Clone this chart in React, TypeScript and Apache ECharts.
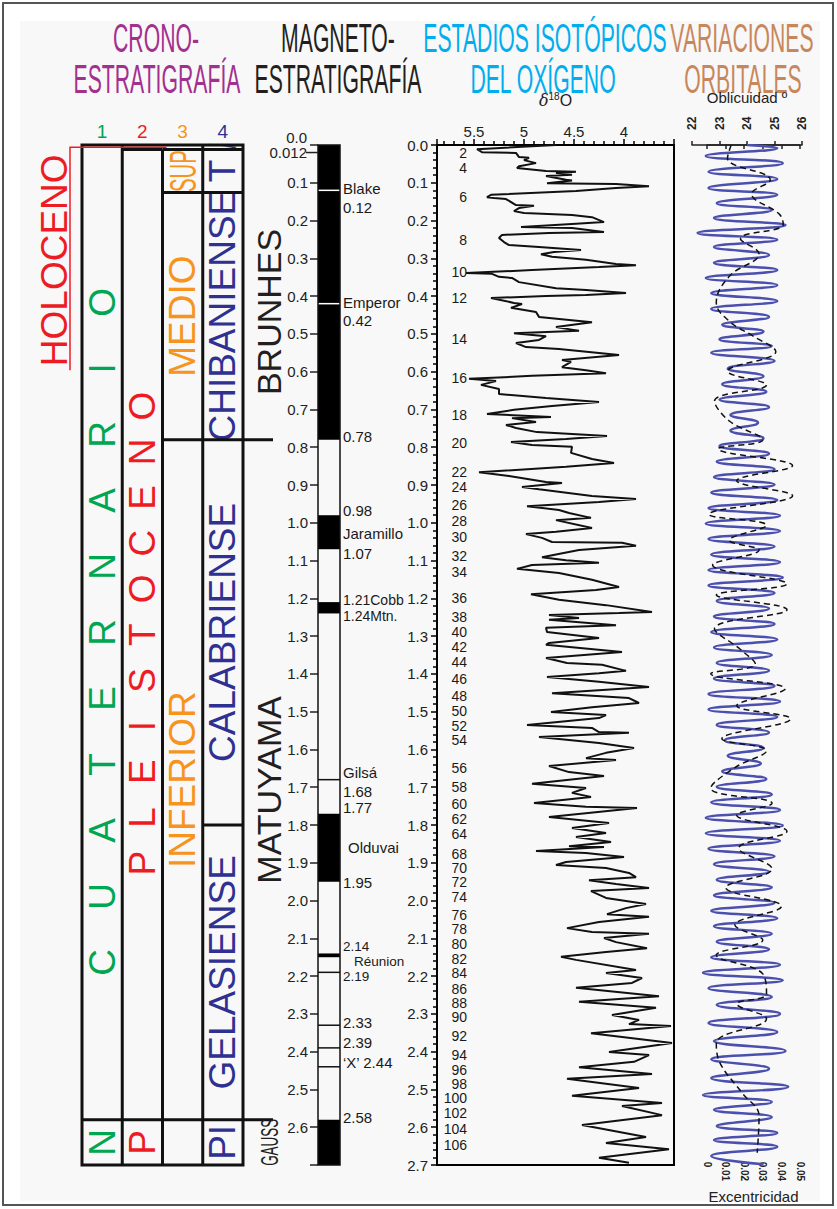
import { useEffect, useRef } from 'react';
import * as echarts from 'echarts';

const FONT = '"Liberation Sans", Arial, Helvetica, sans-serif';
const AGE_MIN = 0;
const AGE_MAX = 2.7;

// ---------- Cronoestratigrafía: [desde Ma, hasta Ma, nombre] ----------
const sistema: [number, number, string][] = [[0, 2.58, 'CUATERNARIO'], [2.58, 2.7, 'N']];
const serie: [number, number, string][] = [[0, 0.012, ''], [0.012, 2.58, 'PLEISTOCENO'], [2.58, 2.7, 'P']];
const subserie: [number, number, string][] = [[0, 0.012, ''], [0.012, 0.126, 'SUP'], [0.126, 0.78, 'MEDIO'], [0.78, 2.58, 'INFERIOR'], [2.58, 2.7, '']];
const piso: [number, number, string][] = [[0, 0.012, 'V'], [0.012, 0.126, 'T'], [0.126, 0.78, 'CHIBANIENSE'], [0.78, 1.8, 'CALABRIENSE'], [1.8, 2.58, 'GELASIENSE'], [2.58, 2.7, 'PI']];
const columnNumbers = ['1', '2', '3', '4'];
const extendedBoundaries = [0.78, 2.58];

// ---------- Magnetoestratigrafía ----------
const normalChrons: [number, number][] = [[0, 0.78], [0.98, 1.07], [1.21, 1.24], [1.77, 1.95], [2.14, 2.15], [2.58, 2.7]];
const shortEvents = [0.12, 0.42, 1.68, 2.19, 2.33, 2.39, 2.44];
const chronNames: [number, string][] = [[0.442, 'BRUNHES'], [1.707, 'MATUYAMA'], [2.64, 'GAUSS']];
const topAgeLabels: [number, string][] = [[0, '0.0'], [0.012, '0.012']];
const magnetoLabels: [number, string][] = [
  [0.12, 'Blake'], [0.12, '0.12'], [0.42, 'Emperor'], [0.42, '0.42'], [0.78, '0.78'], [0.98, '0.98'],
  [1.07, 'Jaramillo'], [1.07, '1.07'], [1.21, '1.21Cobb'], [1.24, '1.24Mtn.'], [1.68, 'Gilsá'], [1.68, '1.68'],
  [1.77, '1.77'], [1.86, 'Olduvai'], [1.95, '1.95'], [2.14, '2.14'], [2.15, 'Réunion'], [2.19, '2.19'],
  [2.33, '2.33'], [2.39, '2.39'], [2.44, '‘X’ 2.44'], [2.58, '2.58'],
];

// ---------- Estadios isotópicos: [δ18O ‰, edad Ma] ----------
const d18O: [number, number][] = [
  [4.68, 0.000], [5.47, 0.011], [5.42, 0.019], [5.08, 0.021], [5.05, 0.032], [4.95, 0.034], [5.00, 0.040], [4.88, 0.048],
  [5.05, 0.056], [5.07, 0.061], [4.78, 0.069], [4.48, 0.071], [4.68, 0.074], [4.52, 0.079], [4.78, 0.082], [4.58, 0.092],
  [4.52, 0.094], [4.77, 0.101], [4.08, 0.103], [3.75, 0.109], [4.08, 0.114], [4.48, 0.122], [5.33, 0.132], [5.37, 0.138],
  [5.30, 0.140], [5.18, 0.143], [5.08, 0.159], [4.90, 0.161], [5.05, 0.167], [5.10, 0.175], [5.00, 0.180], [4.52, 0.185],
  [4.32, 0.191], [4.20, 0.204], [4.52, 0.209], [5.03, 0.217], [4.52, 0.220], [4.20, 0.230], [4.75, 0.233], [5.22, 0.238],
  [5.25, 0.246], [5.20, 0.257], [5.15, 0.265], [4.85, 0.270], [4.43, 0.278], [4.70, 0.283], [4.83, 0.289], [4.72, 0.296],
  [4.38, 0.304], [4.08, 0.315], [3.88, 0.318], [4.25, 0.323], [4.92, 0.331], [5.58, 0.339], [5.32, 0.341], [5.25, 0.349],
  [5.12, 0.352], [5.05, 0.363], [4.68, 0.379], [4.38, 0.384], [3.98, 0.392], [4.38, 0.397], [4.78, 0.400], [5.33, 0.405],
  [5.10, 0.418], [5.02, 0.421], [5.13, 0.431], [4.88, 0.442], [4.85, 0.455], [4.32, 0.469], [4.68, 0.482], [4.45, 0.492],
  [5.10, 0.498], [4.78, 0.506], [4.85, 0.516], [5.08, 0.524], [4.98, 0.535], [4.65, 0.540], [4.05, 0.556], [4.62, 0.569],
  [4.53, 0.574], [4.62, 0.588], [4.38, 0.596], [4.18, 0.604], [4.92, 0.611], [5.55, 0.619], [5.28, 0.625], [5.43, 0.635],
  [5.25, 0.646], [5.25, 0.659], [4.78, 0.670], [4.25, 0.680], [4.72, 0.691], [5.10, 0.701], [5.37, 0.712], [4.73, 0.720],
  [5.12, 0.723], [4.88, 0.733], [5.18, 0.741], [5.08, 0.749], [4.87, 0.760], [4.17, 0.770], [4.58, 0.778], [5.13, 0.786],
  [4.92, 0.794], [4.52, 0.799], [4.53, 0.815], [4.32, 0.831], [4.10, 0.842], [4.58, 0.852], [5.45, 0.866], [5.15, 0.876],
  [4.78, 0.892], [4.62, 0.895], [5.02, 0.905], [4.85, 0.911], [4.32, 0.929], [3.88, 0.937], [4.25, 0.945], [4.97, 0.956],
  [4.65, 0.966], [4.55, 0.974], [4.33, 0.987], [4.68, 0.993], [4.32, 1.014], [4.68, 1.024], [4.98, 1.030], [4.82, 1.040],
  [4.72, 1.051], [4.02, 1.053], [3.88, 1.061], [4.45, 1.072], [4.82, 1.091], [4.58, 1.099], [4.25, 1.106], [4.92, 1.112],
  [5.07, 1.122], [4.65, 1.133], [4.32, 1.151], [4.05, 1.170], [4.28, 1.178], [4.93, 1.189], [4.65, 1.204], [4.18, 1.218],
  [3.72, 1.236], [4.05, 1.239], [4.75, 1.244], [4.45, 1.252], [4.75, 1.257], [4.08, 1.271], [4.78, 1.278], [4.77, 1.289],
  [4.25, 1.305], [4.75, 1.318], [4.78, 1.323], [4.02, 1.342], [4.78, 1.358], [4.57, 1.371], [4.22, 1.376], [3.98, 1.392],
  [4.25, 1.398], [4.77, 1.408], [4.25, 1.421], [3.75, 1.435], [4.72, 1.451], [3.95, 1.464], [3.85, 1.477], [4.32, 1.488],
  [4.73, 1.501], [4.18, 1.509], [4.25, 1.517], [4.97, 1.535], [4.32, 1.543], [4.25, 1.554], [3.95, 1.556], [4.85, 1.567],
  [4.25, 1.583], [3.90, 1.596], [4.18, 1.609], [4.38, 1.623], [4.08, 1.628], [4.75, 1.644], [4.55, 1.660], [4.20, 1.670],
  [4.92, 1.691], [4.38, 1.702], [4.52, 1.715], [4.33, 1.726], [4.90, 1.742], [4.38, 1.752], [3.87, 1.755], [4.75, 1.779],
  [4.45, 1.787], [4.15, 1.795], [4.52, 1.808], [4.18, 1.821], [4.48, 1.832], [4.13, 1.845], [4.55, 1.856], [4.20, 1.858],
  [4.88, 1.869], [4.38, 1.874], [4.00, 1.885], [4.58, 1.898], [4.68, 1.906], [4.18, 1.914], [3.95, 1.927], [3.88, 1.938],
  [4.35, 1.946], [4.08, 1.956], [3.75, 1.967], [4.33, 1.975], [4.18, 1.993], [3.78, 2.009], [3.98, 2.020], [4.17, 2.036],
  [3.75, 2.043], [4.25, 2.057], [4.57, 2.073], [4.32, 2.083], [3.75, 2.088], [4.20, 2.099], [4.08, 2.110], [3.77, 2.126],
  [4.18, 2.136], [4.63, 2.149], [4.48, 2.157], [3.88, 2.184], [4.18, 2.192], [3.82, 2.205], [3.92, 2.218], [4.48, 2.231],
  [3.65, 2.253], [4.45, 2.268], [3.68, 2.284], [4.12, 2.303], [3.85, 2.316], [3.95, 2.327], [3.53, 2.332], [4.33, 2.351],
  [3.52, 2.377], [4.15, 2.401], [3.75, 2.409], [3.90, 2.427], [4.45, 2.441], [3.72, 2.459], [4.57, 2.472], [3.85, 2.496],
  [4.52, 2.517], [3.62, 2.536], [4.02, 2.544], [3.62, 2.568], [4.42, 2.594], [3.78, 2.626], [4.18, 2.642], [3.55, 2.658],
  [4.25, 2.681], [3.95, 2.694],
];
const misNumbers = [2, 4, 6, 8, 10, 12, 14, 16, 18, 20, 22, 24, 26, 28, 30, 32, 34, 36, 38, 40, 42, 44, 46, 48, 50, 52, 54, 56, 58, 60, 62, 64, 68, 70, 72, 74, 76, 78, 80, 82, 84, 86, 88, 90, 92, 94, 96, 98, 100, 102, 104, 106];
const misAges = [0.021, 0.061, 0.138, 0.251, 0.336, 0.405, 0.514, 0.617, 0.715, 0.789, 0.865, 0.906, 0.953, 0.996, 1.038, 1.088, 1.130, 1.199, 1.249, 1.290, 1.329, 1.368, 1.413, 1.458, 1.499, 1.537, 1.576, 1.649, 1.699, 1.745, 1.784, 1.823, 1.876, 1.914, 1.952, 1.991, 2.038, 2.076, 2.115, 2.155, 2.193, 2.234, 2.271, 2.309, 2.358, 2.409, 2.448, 2.485, 2.523, 2.562, 2.605, 2.647];

// ---------- Variaciones orbitales: [edad Ma, valor] ----------
const obliquity: [number, number][] = [
  [0.000, 24.0], [0.008, 25.1], [0.029, 22.5], [0.048, 25.3], [0.071, 22.6], [0.090, 25.1], [0.114, 22.6], [0.132, 25.1],
  [0.154, 22.9], [0.172, 24.9], [0.193, 22.8], [0.212, 25.4], [0.233, 22.2], [0.251, 25.1], [0.270, 22.8], [0.291, 24.8],
  [0.312, 22.8], [0.331, 25.1], [0.352, 22.5], [0.371, 25.1], [0.392, 22.7], [0.413, 25.1], [0.434, 22.7], [0.455, 24.8],
  [0.476, 23.1], [0.494, 24.6], [0.514, 23.0], [0.532, 24.9], [0.550, 22.7], [0.572, 25.0], [0.592, 23.3], [0.612, 24.6],
  [0.633, 23.1], [0.653, 24.7], [0.674, 23.0], [0.694, 24.8], [0.715, 23.4], [0.735, 24.4], [0.756, 23.4], [0.776, 24.6],
  [0.797, 23.0], [0.817, 24.8], [0.838, 22.9], [0.858, 25.0], [0.879, 22.8], [0.899, 25.0], [0.920, 22.7], [0.940, 25.1],
  [0.961, 22.6], [0.981, 25.2], [1.002, 22.5], [1.022, 25.2], [1.043, 22.6], [1.063, 25.0], [1.084, 22.7], [1.104, 25.2],
  [1.125, 22.6], [1.145, 25.3], [1.166, 22.6], [1.186, 25.0], [1.207, 22.9], [1.227, 24.8], [1.248, 22.8], [1.268, 25.0],
  [1.289, 22.7], [1.309, 25.1], [1.330, 22.8], [1.350, 24.9], [1.371, 22.9], [1.391, 24.8], [1.412, 22.8], [1.432, 25.0],
  [1.453, 22.6], [1.473, 25.2], [1.494, 22.6], [1.514, 25.1], [1.535, 22.9], [1.555, 24.8], [1.576, 23.2], [1.596, 24.6],
  [1.617, 23.3], [1.637, 24.5], [1.658, 23.1], [1.678, 24.7], [1.699, 22.9], [1.719, 24.9], [1.740, 22.7], [1.760, 25.2],
  [1.781, 22.5], [1.801, 25.3], [1.822, 22.5], [1.842, 25.2], [1.863, 22.6], [1.883, 25.0], [1.904, 22.8], [1.924, 24.8],
  [1.945, 22.9], [1.965, 24.9], [1.986, 22.8], [2.006, 25.0], [2.027, 22.7], [2.047, 25.1], [2.068, 22.8], [2.088, 24.9],
  [2.109, 22.9], [2.129, 24.8], [2.150, 22.7], [2.170, 25.2], [2.191, 22.4], [2.211, 25.3], [2.232, 22.6], [2.255, 24.9],
  [2.276, 22.9], [2.300, 25.2], [2.324, 22.6], [2.348, 25.1], [2.372, 22.8], [2.398, 25.4], [2.420, 22.7], [2.445, 24.8],
  [2.470, 22.7], [2.493, 25.5], [2.515, 22.4], [2.533, 24.9], [2.554, 22.8], [2.573, 24.9], [2.597, 22.9], [2.615, 25.1],
  [2.634, 22.8], [2.652, 25.1], [2.676, 22.7], [2.698, 24.6],
];
const eccentricity: [number, number][] = [
  [0.000, 0.013], [0.035, 0.011], [0.093, 0.034], [0.130, 0.024], [0.185, 0.039], [0.212, 0.041], [0.250, 0.018], [0.290, 0.028],
  [0.350, 0.012], [0.420, 0.005], [0.470, 0.012], [0.510, 0.025], [0.551, 0.037], [0.603, 0.011], [0.640, 0.032], [0.683, 0.004],
  [0.736, 0.012], [0.786, 0.030], [0.810, 0.006], [0.855, 0.046], [0.895, 0.016], [0.935, 0.046], [0.985, 0.001], [1.014, 0.032],
  [1.054, 0.012], [1.080, 0.028], [1.120, 0.003], [1.170, 0.043], [1.200, 0.005], [1.239, 0.043], [1.290, 0.004], [1.345, 0.018],
  [1.384, 0.026], [1.410, 0.002], [1.450, 0.042], [1.495, 0.016], [1.530, 0.045], [1.583, 0.008], [1.615, 0.032], [1.660, 0.015],
  [1.715, 0.002], [1.755, 0.035], [1.787, 0.016], [1.830, 0.043], [1.875, 0.017], [1.930, 0.035], [1.980, 0.010], [2.030, 0.040],
  [2.080, 0.015], [2.120, 0.030], [2.160, 0.005], [2.210, 0.030], [2.263, 0.032], [2.290, 0.016], [2.330, 0.032], [2.395, 0.005],
  [2.448, 0.007], [2.528, 0.019], [2.589, 0.028], [2.687, 0.027],
];

// ---------- Títulos ----------
const headerTexts = ['CRONO-', 'ESTRATIGRAFÍA', 'MAGNETO-', 'ESTRATIGRAFÍA', 'ESTADIOS ISOTÓPICOS', 'DEL OXÍGENO', 'VARIACIONES', 'ORBITALES'];

// ---------- Estilos ----------
const stratColors = ['#00a651', '#ed1c24', '#f7941d', '#2e3192'];
const headerColors = ['#a3308f', '#a3308f', '#231f20', '#231f20', '#00aeef', '#00aeef', '#c8875b', '#c8875b'];
const headerPos: [number, number][] = [[156, 38], [157, 79], [338, 38], [338, 79], [545, 38], [543, 79], [742, 38], [743, 79]];
const letterSpacing: Record<string, number> = { CUATERNARIO: 66, PLEISTOCENO: 45.7 };
const squeeze: Record<string, number> = { SUP: 0.55, V: 0.28 };
const magnetoLabelDy = [-2, 17, -1, 17, -3, -5, -16, 4, -2, 3, -7, 12, -6, 0, 1, -7, 4, 4, -3, -5, -4, -2];
const magnetoLabelDx = [0, 0, 0, 0, 0, 0, 0, 0, 0, 0, 0, 0, 0, 5, 0, 0, 11, 0, 0, 0, 0, 0];
const magnetoLabelSize = [15, 15, 15, 15, 15, 15, 15, 15, 14, 14, 15, 15, 15, 15, 15, 13.5, 13.5, 13.5, 15, 15, 15, 15];
const chronFont = [34, 34, 24];
const chronScale = [1, 1, 0.56];

const stratColumns = [sistema, serie, subserie, piso];
const stratCells = stratColumns.flatMap((units, col) => units.map((u) => [col, u[0], u[1]]));
const stratNames = stratColumns.flatMap((units) => units.map((u) => u[2]));

function txt(x: number, y: number, text: string, o: any = {}) {
  return {
    type: 'text', x, y, rotation: o.rotation || 0, scaleX: o.scaleX || 1, z2: 10,
    style: {
      text, fill: o.fill || '#222', fontSize: o.size || 15, fontFamily: FONT, fontWeight: o.weight || 'normal',
      fontStyle: o.fontStyle || 'normal', lineHeight: o.lineHeight,
      align: o.align || 'left', verticalAlign: o.va || 'middle', textAlign: o.align || 'left', textVerticalAlign: o.va || 'middle',
    },
  };
}
const seg = (x1: number, y1: number, x2: number, y2: number, stroke = '#111', lineWidth = 3) => ({
  type: 'line', shape: { x1, y1, x2, y2 }, style: { stroke, lineWidth },
});

function buildOption() {
  const yBase = { type: 'value', min: AGE_MIN, max: AGE_MAX, inverse: true, splitLine: { show: false } };
  return {
    animation: false,
    grid: [
      { left: 82, top: 145, width: 161, height: 1020 },
      { left: 318, top: 145, width: 22, height: 1020 },
      { left: 437, top: 145, width: 237, height: 1020, show: true, borderColor: '#000', borderWidth: 2 },
      { left: 692, top: 145, width: 110, height: 1020 },
      { left: 707, top: 145, width: 93, height: 1020 },
    ],
    xAxis: [
      { gridIndex: 0, type: 'value', min: 0, max: 4, show: false },
      { gridIndex: 1, type: 'value', min: 0, max: 1, show: false },
      {
        gridIndex: 2, type: 'value', position: 'top', min: 3.5, max: 5.87, interval: 0.5, inverse: true,
        axisLine: { lineStyle: { color: '#000', width: 2 } },
        axisTick: { length: 6, lineStyle: { color: '#000', width: 1.5 } },
        minorTick: { show: true, splitNumber: 5, length: 4, lineStyle: { color: '#000', width: 1.5 } },
        splitLine: { show: false },
        axisLabel: {
          margin: 6, fontSize: 15, color: '#222', fontFamily: FONT, showMaxLabel: false, showMinLabel: false,
          formatter: (v: number) => (v < 3.9 || v > 5.6 ? '' : String(v)),
        },
        name: '{d|δ}{s|18}{o|O}', nameLocation: 'middle', nameGap: 36,
        nameTextStyle: {
          rich: {
            d: { fontSize: 16, fontStyle: 'italic', fontFamily: 'DejaVu Serif, serif', color: '#222', lineHeight: 18 },
            s: { fontSize: 10, color: '#222', fontFamily: FONT, verticalAlign: 'top', lineHeight: 18 },
            o: { fontSize: 16, color: '#222', fontFamily: FONT, lineHeight: 18 },
          },
        },
      },
      {
        gridIndex: 3, type: 'value', position: 'top', min: 22, max: 26, interval: 1, offset: 10,
        axisLine: { lineStyle: { color: '#222', width: 1.5 } },
        axisTick: { length: 4, lineStyle: { color: '#222', width: 1.5 } },
        splitLine: { show: false },
        axisLabel: { rotate: 90, margin: 5, fontSize: 12, fontWeight: 'bold', color: '#222', fontFamily: FONT },
        name: 'Oblicuidad º', nameLocation: 'middle', nameGap: 30,
        nameTextStyle: { fontSize: 15, color: '#222', fontFamily: FONT },
      },
      {
        gridIndex: 4, type: 'value', position: 'bottom', min: 0, max: 0.05, interval: 0.01,
        axisLine: { lineStyle: { color: '#222', width: 1.5 } },
        axisTick: { length: 4, lineStyle: { color: '#222', width: 1.5 } },
        splitLine: { show: false },
        axisLabel: { rotate: -90, margin: 4, fontSize: 10, fontWeight: 'bold', color: '#222', fontFamily: FONT, formatter: (v: number) => (v === 0 ? '0' : v.toFixed(2)) },
        name: 'Excentricidad', nameLocation: 'middle', nameGap: 31,
        nameTextStyle: { fontSize: 15, color: '#222', fontFamily: FONT },
      },
    ],
    yAxis: [
      { ...yBase, gridIndex: 0, show: false },
      {
        ...yBase, gridIndex: 1, interval: 0.1,
        axisLine: { show: false },
        axisTick: { length: 8, lineStyle: { color: '#222', width: 1.5 } },
        axisLabel: { margin: 10, fontSize: 15, color: '#222', fontFamily: FONT, formatter: (v: number) => (v > 0.05 && v < 2.65 ? v.toFixed(1) : '') },
      },
      {
        ...yBase, gridIndex: 2, interval: 0.1,
        axisLine: { lineStyle: { color: '#000', width: 2 } },
        axisTick: { length: 6, lineStyle: { color: '#000', width: 1.5 } },
        minorTick: { show: true, splitNumber: 5, length: 4, lineStyle: { color: '#000', width: 1.5 } },
        axisLabel: { margin: 9, fontSize: 15, color: '#222', fontFamily: FONT, formatter: (v: number) => v.toFixed(1) },
      },
      { ...yBase, gridIndex: 3, show: false },
      { ...yBase, gridIndex: 4, show: false },
    ],
    series: [
      {
        type: 'custom', xAxisIndex: 0, yAxisIndex: 0, data: stratCells, clip: false, z: 5,
        renderItem: (params: any, api: any) => {
          const i = params.dataIndex;
          const name = stratNames[i];
          if (!name) return { type: 'group', children: [] };
          const col = api.value(0);
          const a = api.coord([col, api.value(1)]);
          const b = api.coord([col + 1, api.value(2)]);
          const cx = (a[0] + b[0]) / 2;
          const cy = (a[1] + b[1]) / 2;
          const fill = stratColors[col];
          const sp = letterSpacing[name];
          if (sp) {
            const ch = name.split('');
            return {
              type: 'group',
              children: ch.map((c, k) => txt(cx, cy + ((ch.length - 1) / 2 - k) * sp, c, { rotation: Math.PI / 2, fill, size: 37, align: 'center' })),
            };
          }
          return txt(cx, cy, name, { rotation: Math.PI / 2, fill, size: name === 'V' ? 38 : 37, align: 'center', scaleX: squeeze[name] || 1 });
        },
      },
      {
        type: 'custom', xAxisIndex: 0, yAxisIndex: 0, data: [[0, 0]], clip: false, z: 6,
        renderItem: (_p: any, api: any) => {
          const P = (c: number, t: number) => api.coord([c, t]);
          const ch: any[] = [];
          const tl = P(0, AGE_MIN), br = P(4, AGE_MAX);
          ch.push({ type: 'rect', shape: { x: tl[0], y: tl[1], width: br[0] - tl[0], height: br[1] - tl[1] }, style: { fill: 'none', stroke: '#111', lineWidth: 3 } });
          [[1, AGE_MIN], [2, serie[0][1]], [3, AGE_MIN]].forEach(([c, t0]) => {
            const p = P(c, t0), q = P(c, AGE_MAX);
            ch.push(seg(p[0], p[1], q[0], q[1]));
          });
          stratColumns.forEach((units, col) => {
            units.forEach((u) => {
              if (u[0] <= AGE_MIN) return;
              const p = P(col, u[0]), q = P(col + 1, u[0]);
              const ext = col === 3 && extendedBoundaries.includes(u[0]) ? 30 : 0;
              ch.push(seg(p[0], p[1], q[0] + ext, q[1]));
            });
          });
          columnNumbers.forEach((n, c) => {
            const p = P(c + 0.5, AGE_MIN);
            ch.push(txt(p[0], p[1] - 14, n, { fill: stratColors[c], size: 19, align: 'center' }));
          });
          const h = P(2.1, serie[0][1] / 2);
          const hx = tl[0] - 12;
          ch.push({ type: 'polyline', shape: { points: [[hx, h[1] + 223], [hx, h[1]], [h[0], h[1]]] }, style: { stroke: '#ed1c24', lineWidth: 1.5, fill: 'none' } });
          ch.push(txt(hx - 16, h[1] + 113, 'HOLOCENO', { rotation: Math.PI / 2, fill: '#ed1c24', size: 37, align: 'center' }));
          return { type: 'group', children: ch };
        },
      },
      {
        type: 'custom', xAxisIndex: 1, yAxisIndex: 1, data: normalChrons, clip: false, z: 5,
        renderItem: (_p: any, api: any) => {
          const a = api.coord([0, api.value(0)]);
          const b = api.coord([1, api.value(1)]);
          return { type: 'rect', shape: { x: a[0], y: a[1], width: b[0] - a[0], height: b[1] - a[1] }, style: { fill: '#000' } };
        },
      },
      {
        type: 'custom', xAxisIndex: 1, yAxisIndex: 1, data: shortEvents.map((t) => [0, t]), clip: false, z: 6,
        renderItem: (_p: any, api: any) => {
          const t = api.value(1);
          const inNormal = normalChrons.some(([a, b]) => t > a && t < b);
          const a = api.coord([0, t]);
          const b = api.coord([1, t]);
          return seg(a[0], a[1], b[0], b[1], inNormal ? '#ffffff' : '#111', 1.5);
        },
      },
      {
        type: 'custom', xAxisIndex: 1, yAxisIndex: 1, data: [[0, 0]], clip: false, z: 7,
        renderItem: (_p: any, api: any) => {
          const ch: any[] = [];
          const tl = api.coord([0, AGE_MIN]), br = api.coord([1, AGE_MAX]);
          ch.push({ type: 'rect', shape: { x: tl[0], y: tl[1], width: br[0] - tl[0], height: br[1] - tl[1] }, style: { fill: 'none', stroke: '#111', lineWidth: 1.5 } });
          magnetoLabels.forEach(([t, s], i) => {
            const p = api.coord([1, t]);
            ch.push(txt(p[0] + 3 + magnetoLabelDx[i], p[1] + magnetoLabelDy[i], s, { size: magnetoLabelSize[i], fill: '#1a1a1a', lineHeight: 12 }));
          });
          topAgeLabels.forEach(([t, s], i) => {
            const p = api.coord([0, t]);
            ch.push(txt(p[0] - 11, p[1] + (i === 0 ? -8 : 3), s, { size: 15, align: 'right', fill: '#222', lineHeight: 12 }));
            if (i === 1) ch.push(seg(p[0] - 12, p[1] + 3, p[0], p[1] + 3, '#222', 1.5));
          });
          chronNames.forEach(([t, s], i) => {
            const p = api.coord([0, t]);
            ch.push(txt(p[0] - 49, p[1], s, { rotation: Math.PI / 2, size: chronFont[i], scaleX: chronScale[i], align: 'center', fill: '#231f20' }));
          });
          return { type: 'group', children: ch };
        },
      },
      {
        type: 'line', xAxisIndex: 2, yAxisIndex: 2, data: d18O, showSymbol: false, symbol: 'none', z: 4,
        lineStyle: { color: '#111', width: 2 },
      },
      {
        type: 'custom', xAxisIndex: 2, yAxisIndex: 2, data: misAges.map((t) => [5.87, t]), clip: false, z: 6,
        renderItem: (params: any, api: any) => {
          const p = api.coord([api.value(0), api.value(1)]);
          return txt(p[0] + 30, p[1], String(misNumbers[params.dataIndex]), { align: 'right', size: 14, fill: '#1a1a1a', lineHeight: 11 });
        },
      },
      {
        type: 'line', xAxisIndex: 3, yAxisIndex: 3, data: obliquity.map(([t, v]) => [v, t]), showSymbol: false, symbol: 'none', smooth: 0.5, z: 4,
        lineStyle: { color: '#4b4fae', width: 2.5 },
      },
      {
        type: 'line', xAxisIndex: 4, yAxisIndex: 4, data: eccentricity.map(([t, v]) => [v, t]), showSymbol: false, symbol: 'none', smooth: 0.4, z: 5,
        lineStyle: { color: '#111', width: 1.5, type: [6, 4] },
      },
    ],
    graphic: {
      elements: [
        { type: 'rect', z: -20, silent: true, shape: { x: 3, y: 3, width: 830, height: 1202 }, style: { fill: '#ffffff', stroke: '#555', lineWidth: 2 } },
        { type: 'rect', z: -19, silent: true, shape: { x: 20, y: 21, width: 800, height: 1180 }, style: { fill: '#f8f8f8' } },
        ...headerTexts.map((s, i) => ({
          type: 'text', x: headerPos[i][0], y: headerPos[i][1], scaleX: 0.53, silent: true,
          style: { text: s, fill: headerColors[i], fontSize: 40, fontFamily: FONT, align: 'center', verticalAlign: 'middle', textAlign: 'center', textVerticalAlign: 'middle' },
        })),
      ],
    },
  };
}

export default function App() {
  const ref = useRef<HTMLDivElement>(null);
  useEffect(() => {
    if (!ref.current) return;
    const chart = echarts.init(ref.current, null, { renderer: 'svg' });
    chart.setOption(buildOption() as any);
    return () => chart.dispose();
  }, []);
  return <div ref={ref} style={{ position: 'absolute', left: 0, top: 0, width: 837, height: 1209 }} />;
}
